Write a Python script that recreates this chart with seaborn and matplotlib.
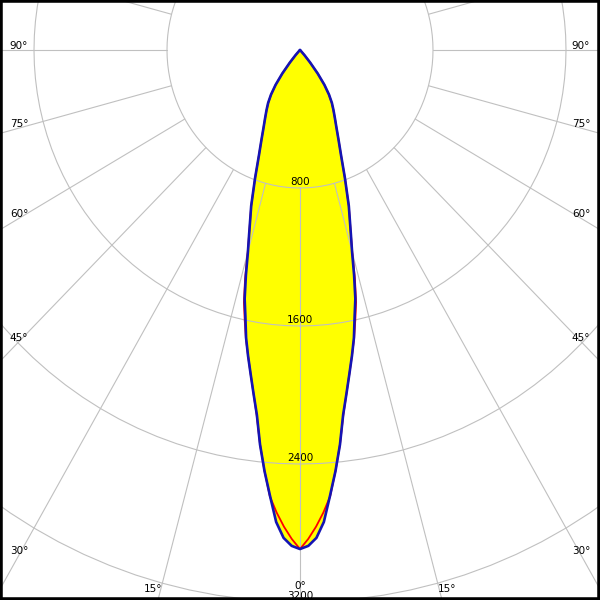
import numpy as np
import pandas as pd
import matplotlib
matplotlib.use("Agg")
import matplotlib.pyplot as plt
import seaborn as sns

# polar intensity distribution (cd), half-plane angles from nadir
angles_deg = [0, 1, 2, 3, 4, 5, 6, 7, 8, 9, 10, 11, 12, 13, 14, 15, 16,
              18, 20, 22, 24, 26, 28, 30, 32, 34, 36, 38, 40, 42, 44, 45,
              60, 75, 90]
c0_cd = [2893, 2835, 2765, 2685, 2595, 2450, 2300, 2135, 2010, 1900, 1800,
         1705, 1600, 1500, 1365, 1215, 1110, 950, 790, 660, 570, 500, 447,
         401, 360, 310, 248, 170, 92, 38, 7, 0, 0, 0, 0]
c90_cd = [2893, 2875, 2830, 2740, 2590, 2450, 2300, 2130, 2010, 1900, 1800,
          1700, 1580, 1480, 1345, 1210, 1110, 950, 790, 660, 570, 500, 447,
          403, 362, 312, 250, 173, 95, 40, 8, 0, 0, 0, 0]
ring_values = [800, 1600, 2400, 3200]
angle_labels = [0, 15, 30, 45, 60, 75, 90]
spoke_step = 15

# pixel geometry of the diagram
PX_X = 0.16625   # px per cd horizontally
PX_Y = 0.1725    # px per cd vertically
CX, CY = 300, 50
W = H = 600


def mirror(angles, values):
    a = np.asarray(angles, float)
    v = np.asarray(values, float)
    return (np.concatenate([-a[::-1], a[1:]]),
            np.concatenate([v[::-1], v[1:]]))


def to_xy(a_deg, r):
    t = np.radians(a_deg)
    return r * np.sin(t), -r * np.cos(t)


def px_to_data(px, py):
    return (px - CX) / PX_X, -(py - CY) / PX_Y


sns.set_style("white")
plt.rcParams['font.family'] = ['DejaVu Sans']

fig = plt.figure(figsize=(6, 6), dpi=100)
ax = fig.add_axes([0, 0, 1, 1])
ax.set_xlim(-CX / PX_X, (W - CX) / PX_X)
ax.set_ylim(-(H - CY) / PX_Y, CY / PX_Y)

grid_col = '#c0c0c0'

# yellow fill of both planes
for vals in (c90_cd, c0_cd):
    a, v = mirror(angles_deg, vals)
    x, y = to_xy(a, v)
    ax.fill(x, y, color='#ffff00', lw=0, zorder=1)

# rings
ring_ang = np.arange(0, 361, 3)
for rv in ring_values:
    x, y = to_xy(ring_ang, rv)
    ax.plot(x, y, color=grid_col, lw=0.8, zorder=2)

# spokes start at the first ring
for a in range(0, 360, spoke_step):
    x, y = to_xy(np.array([a, a]), np.array([ring_values[0], 9000]))
    ax.plot(x, y, color=grid_col, lw=0.8, zorder=2)

# curves
a, v = mirror(angles_deg, c0_cd)
x, y = to_xy(a, v)
df0 = pd.DataFrame({'x': x, 'y': y})
sns.lineplot(data=df0, x='x', y='y', sort=False, estimator=None,
             color='#ff0000', lw=1.3, ax=ax, zorder=3)

a, v = mirror(angles_deg, c90_cd)
x, y = to_xy(a, v)
df90 = pd.DataFrame({'x': x, 'y': y})
sns.lineplot(data=df90, x='x', y='y', sort=False, estimator=None,
             color='#1414b4', lw=1.9, ax=ax, zorder=4)

fs = 7.5
# intensity labels along nadir
for rv in ring_values:
    ax.annotate(str(rv), xy=(0, -rv), xytext=(0, 4.5), textcoords='offset points',
                ha='center', va='center', fontsize=fs, color='black', zorder=5,
                annotation_clip=False)

# angle labels at the frame
for ang in angle_labels:
    for side in (-1, 1):
        t = np.radians(ang)
        if ang >= 30:
            px = CX + side * 281
            r = abs(px - CX) / (PX_X * np.sin(t))
            py = CY + PX_Y * r * np.cos(t) - 4
        elif ang > 0:
            py = 589
            r = (py - CY) / (PX_Y * np.cos(t))
            px = CX + side * (PX_X * r * np.sin(t) + 8)
        else:
            px, py = CX, 586
        xd, yd = px_to_data(px, py)
        ax.text(xd, yd, f'{ang}\u00b0', ha='center', va='center',
                fontsize=fs, color='black', zorder=5)
        if ang == 0:
            break

ax.set_xticks([])
ax.set_yticks([])
ax.set_xlabel('')
ax.set_ylabel('')
for s in ax.spines.values():
    s.set_visible(True)
    s.set_color('black')
    s.set_linewidth(4)

fig.savefig('out.png', dpi=100)
